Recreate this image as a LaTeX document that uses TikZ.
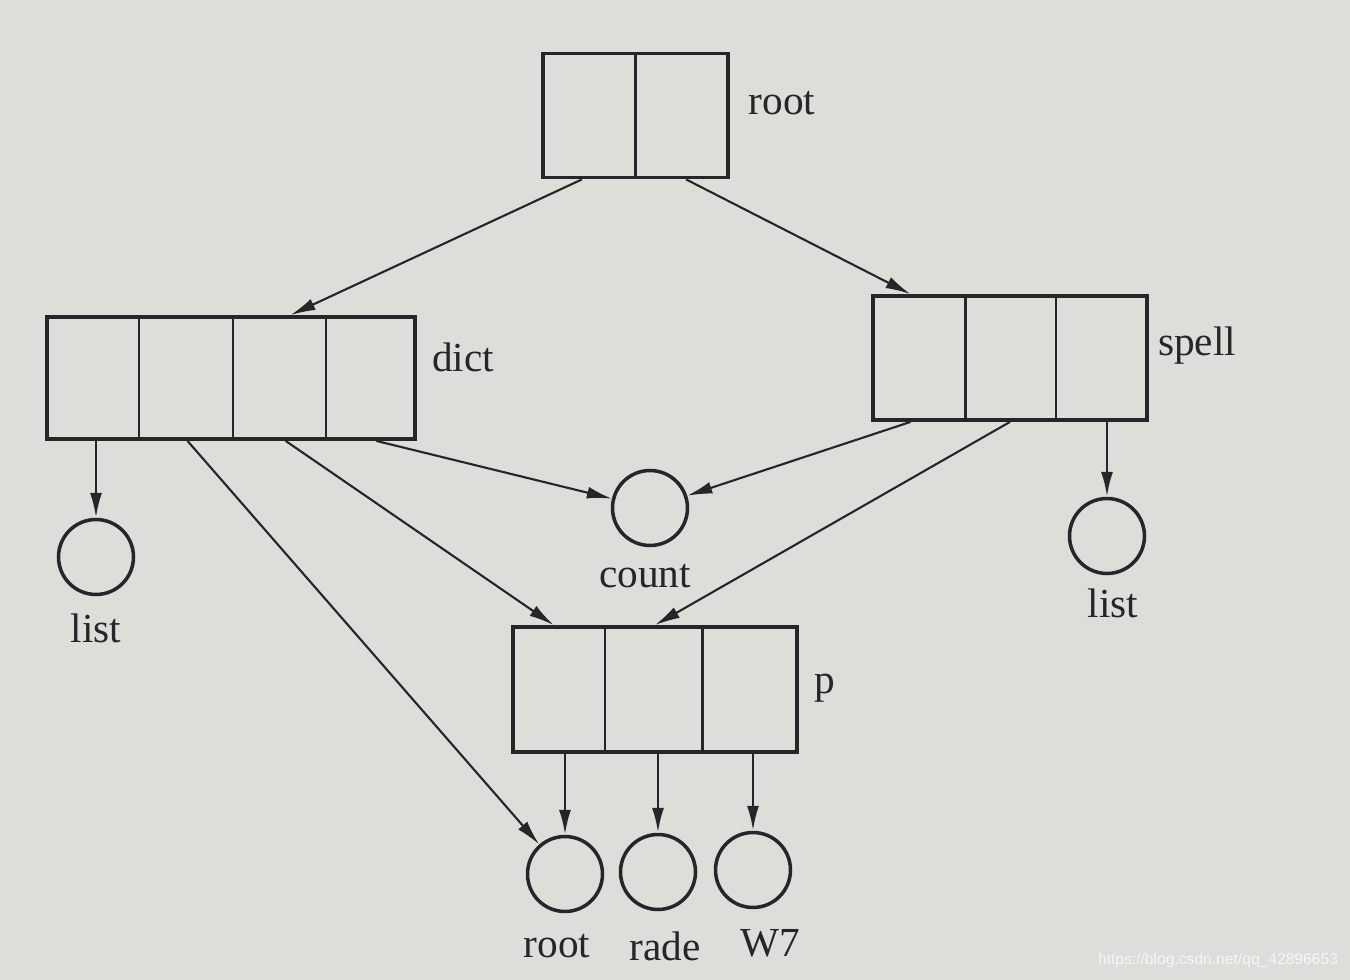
\documentclass[tikz,border=0pt]{standalone}
\usepackage{fontspec}
\setmainfont{Liberation Serif}
\newfontfamily\wmfont{Liberation Sans}
\usetikzlibrary{calc,arrows.meta}
\definecolor{paper}{RGB}{221,221,217}
\definecolor{ink}{RGB}{38,38,38}
\definecolor{wm}{RGB}{246,246,246}
\begin{document}
\begin{tikzpicture}[x=0.02cm,y=-0.02cm,
  box/.style={draw=ink,line width=2.2pt,inner sep=0pt,minimum height=2.48cm},
  circ/.style={draw=ink,line width=2pt,circle,inner sep=0pt,minimum size=1.5cm},
  lbl/.style={text=ink,font=\fontsize{23.5}{26}\selectfont,inner sep=0pt},
  divider/.style={draw=ink,line width=1.3pt},
  conn/.style={draw=ink,line width=1.2pt,-{Latex[length=0.5cm,width=0.24cm]}},
  vconn/.style={conn,line width=1.5pt}]
\fill[paper] (0,0) rectangle (1350,980);
\useasboundingbox (0,0) rectangle (1350,980);

% boxes
\node[box,minimum width=3.7cm] (rootbox) at (635.5,115.5) {};
\node[box,minimum width=7.36cm,minimum height=2.44cm] (dict) at (231,378) {};
\node[box,minimum width=5.48cm] (spell) at (1010,358) {};
\node[box,minimum width=5.68cm,minimum height=2.5cm] (p) at (655,689.5) {};

% dividers
\draw[divider] ($(rootbox.north west)!0.5!(rootbox.north east)$) -- ($(rootbox.south west)!0.5!(rootbox.south east)$);
\foreach \f in {0.253,0.505,0.755}
  \draw[divider] ($(dict.north west)!\f!(dict.north east)$) -- ($(dict.south west)!\f!(dict.south east)$);
\foreach \f in {0.34,0.665}
  \draw[divider] ($(spell.north west)!\f!(spell.north east)$) -- ($(spell.south west)!\f!(spell.south east)$);
\foreach \f in {0.327,0.665}
  \draw[divider] ($(p.north west)!\f!(p.north east)$) -- ($(p.south west)!\f!(p.south east)$);

% circles
\node[circ] (countc) at (650,508) {};
\node[circ] (listl) at (96,557) {};
\node[circ] (listr) at (1107,536) {};
\node[circ] (rootc) at (565,874) {};
\node[circ] (radec) at (658,872) {};
\node[circ] (w7c) at (753,870) {};

% labels
\node[lbl] (lroot) at (782,103) {root};
\node[lbl] (ldict) at (463,357) {dict};
\node[lbl] (lspell) at (1197,346) {spell};
\node[lbl] (lcount) at (645,576) {count};
\node[lbl] (llistl) at (96,628) {list};
\node[lbl] (llistr) at (1113,603) {list};
\node[lbl] (lp) at (825,688) {p};
\node[lbl] (lrootc) at (557,946) {root};
\node[lbl] (lrade) at (665,946) {rade};
\node[lbl] (lw7) at (770,943) {W7};

% connectors
\draw[conn] ($(rootbox.south west)!0.216!(rootbox.south east)$) -- ($(dict.north west)!0.66!(dict.north east)$);
\draw[conn] ($(rootbox.south west)!0.768!(rootbox.south east)$) -- ($(spell.north west)!0.142!(spell.north east)$);
\draw[vconn] (listl.north |- dict.south) -- (listl.north);
\draw[conn] ($(dict.south west)!0.383!(dict.south east)$) -- (rootc);
\draw[conn] ($(dict.south west)!0.647!(dict.south east)$) -- ($(p.north west)!0.148!(p.north east)$);
\draw[conn] ($(dict.south west)!0.891!(dict.south east)$) -- (countc);
\draw[conn] ($(spell.south west)!0.142!(spell.south east)$) -- (countc);
\draw[conn] ($(spell.south west)!0.5!(spell.south east)$) -- ($(p.north west)!0.5!(p.north east)$);
\draw[vconn] (listr.north |- spell.south) -- (listr.north);
\draw[vconn] (rootc.north |- p.south) -- (rootc.north);
\draw[vconn] (radec.north |- p.south) -- (radec.north);
\draw[vconn] (w7c.north |- p.south) -- (w7c.north);

% watermark
\node[text=wm,font=\wmfont\fontsize{8.9}{10}\selectfont,inner sep=0pt] (wmark) at (1218,960) {https://blog.csdn.net/qq\_42896653};
\end{tikzpicture}
\end{document}
